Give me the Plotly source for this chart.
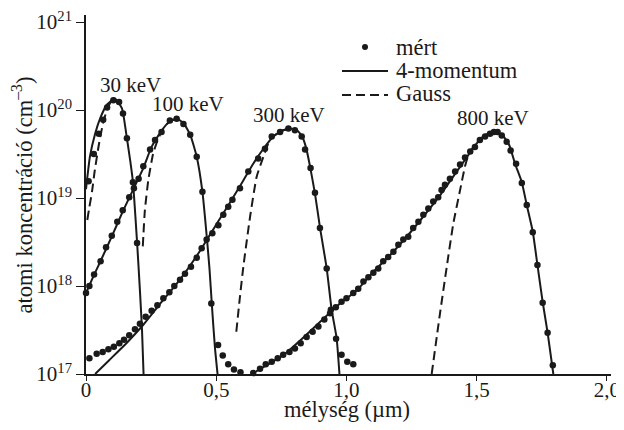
import plotly.graph_objects as go

FONT = "Liberation Serif"
INK = "#1a1a1a"

# depth (µm) and concentration as log10(cm^-3)
# ---- 30 keV
x_fit_30 = [0.0, 0.015, 0.035, 0.055, 0.08, 0.11, 0.138, 0.157, 0.17, 0.18, 0.196, 0.207, 0.215, 0.221]
lg_fit_30 = [19.10, 19.47, 19.73, 19.91, 20.06, 20.13, 20.02, 19.68, 19.42, 19.19, 18.5, 17.95, 17.5, 17.0]
x_dot_30 = [0.010, 0.030, 0.049, 0.066, 0.081, 0.105, 0.127, 0.142, 0.157, 0.180, 0.196]
lg_dot_30 = [19.19, 19.50, 19.73, 19.89, 20.03, 20.11, 20.09, 19.96, 19.68, 19.18, 18.49]
x_g_30 = [0.005, 0.012, 0.023, 0.033, 0.049, 0.064, 0.080, 0.095, 0.110]
lg_g_30 = [18.75, 18.88, 19.07, 19.30, 19.60, 19.83, 20.00, 20.09, 20.13]

# ---- 100 keV
x_fit_100 = [0.0, 0.03, 0.06, 0.10, 0.14, 0.18, 0.22, 0.25, 0.28, 0.31, 0.335, 0.35, 0.375, 0.40, 0.425, 0.447, 0.463, 0.474, 0.484, 0.495, 0.505]
lg_fit_100 = [17.92, 18.12, 18.31, 18.57, 18.84, 19.09, 19.34, 19.57, 19.72, 19.84, 19.89, 19.90, 19.85, 19.72, 19.47, 19.07, 18.58, 18.20, 17.75, 17.30, 17.00]
x_dot_100 = [0.0, 0.013, 0.031, 0.056, 0.077, 0.099, 0.12, 0.141, 0.166, 0.184, 0.202, 0.22, 0.246, 0.265, 0.29, 0.322, 0.348, 0.374, 0.40, 0.425, 0.447, 0.481, 0.507, 0.525, 0.546, 0.568, 0.593]
lg_dot_100 = [17.92, 18.0, 18.13, 18.28, 18.44, 18.57, 18.73, 18.86, 19.01, 19.11, 19.22, 19.36, 19.55, 19.66, 19.75, 19.88, 19.90, 19.84, 19.72, 19.47, 19.07, 17.80, 17.33, 17.21, 17.11, 17.05, 17.02]
x_g_100 = [0.218, 0.226, 0.239, 0.258, 0.278, 0.297, 0.32, 0.348]
lg_g_100 = [18.45, 18.86, 19.20, 19.51, 19.68, 19.79, 19.87, 19.90]

# ---- 300 keV
x_fit_300 = [0.035, 0.09, 0.155, 0.22, 0.285, 0.36, 0.438, 0.50, 0.553, 0.604, 0.642, 0.681, 0.719, 0.757, 0.785, 0.81, 0.83, 0.845, 0.86, 0.879, 0.898, 0.924, 0.943, 0.962, 0.973]
lg_fit_300 = [17.0, 17.16, 17.35, 17.56, 17.80, 18.07, 18.40, 18.70, 18.95, 19.20, 19.39, 19.56, 19.70, 19.77, 19.79, 19.77, 19.70, 19.57, 19.36, 19.05, 18.67, 18.20, 17.73, 17.41, 17.0]
x_dot_300 = [0.013, 0.041, 0.064, 0.086, 0.107, 0.128, 0.146, 0.166, 0.188, 0.207,
             0.229, 0.252, 0.274, 0.297, 0.32, 0.339, 0.361, 0.38, 0.403, 0.425,
             0.444, 0.463, 0.485, 0.508, 0.527, 0.546, 0.562, 0.591, 0.623, 0.661,
             0.687, 0.713, 0.745, 0.777, 0.802, 0.828, 0.841, 0.862, 0.879, 0.898,
             0.924, 0.94, 0.96, 0.981, 1.003, 1.026]
lg_dot_300 = [17.18, 17.23, 17.25, 17.28, 17.31, 17.35, 17.39, 17.44, 17.51, 17.57,
              17.65, 17.72, 17.78, 17.86, 17.93, 18.0, 18.07, 18.14, 18.22, 18.32,
              18.43, 18.53, 18.6, 18.69, 18.81, 18.9, 18.98, 19.11, 19.3, 19.45,
              19.56, 19.70, 19.75, 19.79, 19.77, 19.70, 19.55, 19.34, 19.06, 18.66,
              18.2, 17.73, 17.40, 17.22, 17.14, 17.11]
x_g_300 = [0.577, 0.590, 0.604, 0.63, 0.655, 0.681, 0.706, 0.732, 0.757, 0.785]
lg_g_300 = [17.48, 17.85, 18.22, 18.79, 19.24, 19.47, 19.66, 19.73, 19.77, 19.79]

# ---- 800 keV
x_fit_800 = [0.636, 0.694, 0.76, 0.822, 0.898, 0.975, 1.039, 1.103, 1.167, 1.231, 1.295, 1.359, 1.423, 1.468, 1.50, 1.53, 1.57, 1.60, 1.625, 1.647, 1.673, 1.692, 1.715, 1.733, 1.753, 1.772, 1.794]
lg_fit_800 = [17.0, 17.1, 17.22, 17.38, 17.59, 17.80, 17.95, 18.16, 18.35, 18.56, 18.79, 19.03, 19.30, 19.49, 19.62, 19.71, 19.76, 19.71, 19.60, 19.39, 19.18, 18.92, 18.62, 18.24, 17.82, 17.47, 17.0]
x_dot_800 = [0.642, 0.668, 0.69, 0.713, 0.736, 0.757, 0.781, 0.802, 0.824, 0.847,
             0.87, 0.892, 0.915, 0.937, 0.959, 0.981, 1.0, 1.026, 1.045, 1.065,
             1.084, 1.103, 1.122, 1.141, 1.16, 1.18, 1.199, 1.218, 1.237, 1.256,
             1.276, 1.295, 1.314, 1.333, 1.352, 1.365, 1.378, 1.397, 1.417, 1.436,
             1.455, 1.475, 1.493, 1.512, 1.532, 1.551, 1.566, 1.58, 1.596, 1.615,
             1.63, 1.651, 1.673, 1.692, 1.715, 1.733, 1.753, 1.772, 1.792]
lg_dot_800 = [17.01, 17.06, 17.11, 17.14, 17.18, 17.22, 17.25, 17.29, 17.35, 17.42,
              17.48, 17.54, 17.62, 17.69, 17.76, 17.82, 17.86, 17.92, 17.97, 18.05,
              18.1, 18.15, 18.2, 18.28, 18.33, 18.39, 18.47, 18.53, 18.56, 18.66,
              18.73, 18.81, 18.88, 18.96, 19.01, 19.09, 19.15, 19.22, 19.3, 19.38,
              19.46, 19.53, 19.58, 19.66, 19.70, 19.73, 19.75, 19.75, 19.71, 19.64,
              19.54, 19.39, 19.17, 18.92, 18.61, 18.24, 17.81, 17.47, 17.1]
x_g_800 = [1.327, 1.359, 1.385, 1.41, 1.436, 1.455, 1.468, 1.487, 1.51, 1.53]
lg_g_800 = [17.0, 17.69, 18.22, 18.71, 19.09, 19.36, 19.49, 19.58, 19.66, 19.71]

energy_labels = ["30 keV", "100 keV", "300 keV", "800 keV"]
label_x = [0.169, 0.39, 0.779, 1.562]
label_lg = [20.28, 20.07, 19.94, 19.91]

legend_labels = ["mért", "4-momentum", "Gauss"]

x_tickvals = [0, 0.5, 1.0, 1.5, 2.0]
x_ticktext = ["0", "0,5", "1,0", "1,5", "2,0"]
y_exponents = [17, 18, 19, 20, 21]


def conc(lg):
    return [10.0 ** v for v in lg]


fig = go.Figure()

fits = [(x_fit_30, lg_fit_30), (x_fit_100, lg_fit_100), (x_fit_300, lg_fit_300), (x_fit_800, lg_fit_800)]
gauss = [(x_g_30, lg_g_30), (x_g_100, lg_g_100), (x_g_300, lg_g_300), (x_g_800, lg_g_800)]
dots = [(x_dot_30, lg_dot_30), (x_dot_100, lg_dot_100), (x_dot_300, lg_dot_300), (x_dot_800, lg_dot_800)]

for x, lg in fits:
    fig.add_trace(go.Scatter(x=x, y=conc(lg), mode="lines", name="4-momentum",
                             line=dict(color=INK, width=2, shape="spline", smoothing=0.45),
                             showlegend=False))
for x, lg in gauss:
    fig.add_trace(go.Scatter(x=x, y=conc(lg), mode="lines", name="Gauss",
                             line=dict(color=INK, width=2, dash="9px,5px", shape="spline", smoothing=0.45),
                             showlegend=False))
for x, lg in dots:
    fig.add_trace(go.Scatter(x=x, y=conc(lg), mode="markers", name="mért",
                             marker=dict(color=INK, size=6.5),
                             showlegend=False, cliponaxis=False))

for t, xx, yy in zip(energy_labels, label_x, label_lg):
    fig.add_annotation(x=xx, y=yy, text=t, showarrow=False,
                       font=dict(family=FONT, size=21, color=INK),
                       xanchor="center", yanchor="middle")

# ---- legend keys in paper space (plot area: 525 x 359 px)
PW, PH = 525.0, 359.0


def px(xp):
    return (xp - 86.0) / PW


def py(yp):
    return (374.0 - yp) / PH


leg_rows = [47, 70, 93]
fig.add_shape(type="circle", xref="paper", yref="paper",
              x0=px(362), x1=px(368), y0=py(50), y1=py(44),
              fillcolor=INK, line=dict(color=INK, width=0))
fig.add_shape(type="line", xref="paper", yref="paper",
              x0=px(342), x1=px(388), y0=py(71), y1=py(71),
              line=dict(color=INK, width=2))
fig.add_shape(type="line", xref="paper", yref="paper",
              x0=px(342), x1=px(388), y0=py(95), y1=py(95),
              line=dict(color=INK, width=2, dash="9px,5px"))
for t, r in zip(legend_labels, leg_rows):
    fig.add_annotation(xref="paper", yref="paper", x=px(394), y=py(r), text=t,
                       showarrow=False, xanchor="left", yanchor="middle",
                       font=dict(family=FONT, size=22.5, color=INK))

fig.add_annotation(xref="paper", yref="paper", x=0.497, y=-0.099, text="mélység (µm)",
                   showarrow=False, font=dict(family=FONT, size=22.5, color=INK),
                   xanchor="center", yanchor="middle")
fig.add_annotation(xref="paper", yref="paper", x=-0.122, y=0.5,
                   text="atomi koncentráció (cm<sup>–3</sup>)", textangle=-90,
                   showarrow=False, font=dict(family=FONT, size=22.5, color=INK),
                   xanchor="center", yanchor="middle")

fig.update_xaxes(range=[0, 2.0154], showline=True, linecolor=INK, linewidth=1.5,
                 ticks="outside", ticklen=5, tickwidth=1.3, tickcolor=INK,
                 tickvals=x_tickvals, ticktext=x_ticktext, showgrid=False, zeroline=False,
                 automargin=False, ticklabelstandoff=-9, ticklabeloverflow="allow",
                 tickfont=dict(family=FONT, size=21, color=INK))
fig.update_yaxes(type="log", range=[17, 21.08], showline=True, linecolor=INK, linewidth=1.5,
                 ticks="outside", ticklen=8, tickwidth=1.3, tickcolor=INK,
                 tickvals=[10.0 ** e for e in y_exponents],
                 ticktext=[f"10<sup>{e}</sup>" for e in y_exponents],
                 showgrid=False, zeroline=False, automargin=False,
                 ticklabeloverflow="allow",
                 tickfont=dict(family=FONT, size=21, color=INK))

# page body adds an 8px offset, so margins are shifted to keep the plot area in place
fig.update_layout(
    width=624, height=430,
    margin=dict(l=78, r=21, t=7, b=64),
    plot_bgcolor="white", paper_bgcolor="white",
    font=dict(family=FONT, color=INK),
    showlegend=False,
)

fig.write_html("out.html")
